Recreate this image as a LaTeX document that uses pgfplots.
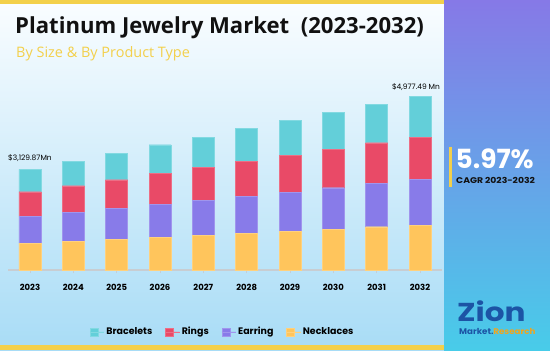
\documentclass[border=0pt]{standalone}
\usepackage{fontspec}
\usepackage{pgfplots}
\pgfplotsset{compat=1.18}
\setmainfont{Poppins}
\newfontfamily\titlefont{Open Sans}
\definecolor{cBr}{RGB}{99,207,217}
\definecolor{cRi}{RGB}{233,74,103}
\definecolor{cEa}{RGB}{136,123,233}
\definecolor{cNe}{RGB}{255,197,92}
\definecolor{axgray}{RGB}{200,205,210}
\definecolor{yel}{RGB}{243,208,75}
\definecolor{bgtop}{RGB}{250,253,255}
\definecolor{bgbot}{RGB}{168,220,246}
\definecolor{pTop}{RGB}{134,121,231}
\definecolor{pBot}{RGB}{72,204,233}
\definecolor{zblue}{RGB}{28,84,165}
\definecolor{zorange}{RGB}{240,165,30}
\begin{document}
\begin{tikzpicture}[x=1bp,y=1bp]
\useasboundingbox (0,0) rectangle (550,350);
\shade[top color=bgtop, bottom color=bgbot] (0,0) rectangle (444,350);
\fill[yel] (0,346) rectangle (444,350);
\fill[yel] (0,0) rectangle (444,5);
\shade[top color=pTop, bottom color=pBot] (444,0) rectangle (550,350);
% titles
\node[anchor=base west, inner sep=0] at (15,316.7) {\titlefont\bfseries\fontsize{22.2}{24}\selectfont\color[RGB]{17,17,17}Platinum Jewelry Market\ \ (2023-2032)};
\node[anchor=base west, inner sep=0] at (16,292.7) {\titlefont\fontsize{14.5}{16}\selectfont\color{yel}By Size \& By Product Type};
% CAGR
\fill[yel] (449,163) rectangle (451.5,203.5);
\node[anchor=base west, inner sep=0] at (455.5,182) {\bfseries\fontsize{26.5}{28}\selectfont\color{white}5.97\%};
\node[anchor=base west, inner sep=0] at (456,166.5) {\scalebox{1.12}[1]{\bfseries\fontsize{8.3}{9}\selectfont\color[RGB]{17,17,17}CAGR 2023-2032}};
% logo
\node[anchor=base west, inner sep=0] at (457,29) {\scalebox{1.2}[1]{\bfseries\fontsize{26}{27}\selectfont\color{zblue}Zion}};
\node[anchor=base west, inner sep=0] at (459,15.5) {\scalebox{1.05}[1]{\bfseries\fontsize{8.3}{9}\selectfont\color{zblue}Market.\color{zorange}Research}};
\begin{axis}[
  at={(8.333bp,80bp)}, anchor=south west,
  width=433.33bp, height=190bp, scale only axis,
  xmin=-0.5, xmax=9.5, ymin=0, ymax=5700,
  ybar stacked, bar width=22bp,
  axis x line*=bottom, axis y line=none,
  x axis line style={draw=axgray, line width=1.5bp, -},
  xtick=data,
  xticklabels={2023,2024,2025,2026,2027,2028,2029,2030,2031,2032},
  xtick align=outside, major tick length=3bp,
  xtick style={draw=axgray, line width=0.8bp},
  xticklabel style={font=\bfseries\fontsize{8.5}{10}\selectfont, text=black, anchor=base, yshift=-17bp},
  clip=false,
  reverse legend,
  legend style={at={(axis description cs:0.181,-0.326)}, anchor=west, draw=none, fill=none,
    legend columns=-1, font=\bfseries\fontsize{9.5}{10}\selectfont,
    /tikz/every even column/.append style={column sep=11bp}},
  legend image code/.code={\fill[#1] (0bp,-4bp) rectangle (8bp,4bp); \path (0bp,0bp) -- (14bp,0bp);},
]
\addplot[fill=cNe, draw=cNe!80!white, line width=0.4bp] coordinates {(0,810) (1,870) (2,930) (3,990) (4,1050) (5,1110) (6,1170) (7,1230) (8,1299) (9,1350)};
\addlegendentry{Necklaces}
\addplot[fill=cEa, draw=cEa!80!white, line width=0.4bp] coordinates {(0,801) (1,870) (2,921) (3,990) (4,1050) (5,1110) (6,1170) (7,1239) (8,1302) (9,1362)};
\addlegendentry{Earring}
\addplot[fill=cRi, draw=cRi!80!white, line width=0.4bp] coordinates {(0,738) (1,789) (2,858) (3,921) (4,981) (5,1050) (6,1110) (7,1161) (8,1218) (9,1278)};
\addlegendentry{Rings}
\addplot[fill=cBr, draw=cBr!80!white, line width=0.4bp] coordinates {(0,672) (1,732) (2,801) (3,858) (4,909) (5,981) (6,1041) (7,1110) (8,1161) (9,1230)};
\addlegendentry{Bracelets}
\node[anchor=south, inner sep=0, font=\fontsize{7.5}{8}\selectfont] at (axis cs:0,3021) [yshift=8bp] {\$3,129.87Mn};
\node[anchor=south, inner sep=0, font=\fontsize{7.5}{8}\selectfont] at (axis cs:9,5220) [yshift=5bp, xshift=-4bp] {\$4,977.49 Mn};
\end{axis}
\end{tikzpicture}
\end{document}
